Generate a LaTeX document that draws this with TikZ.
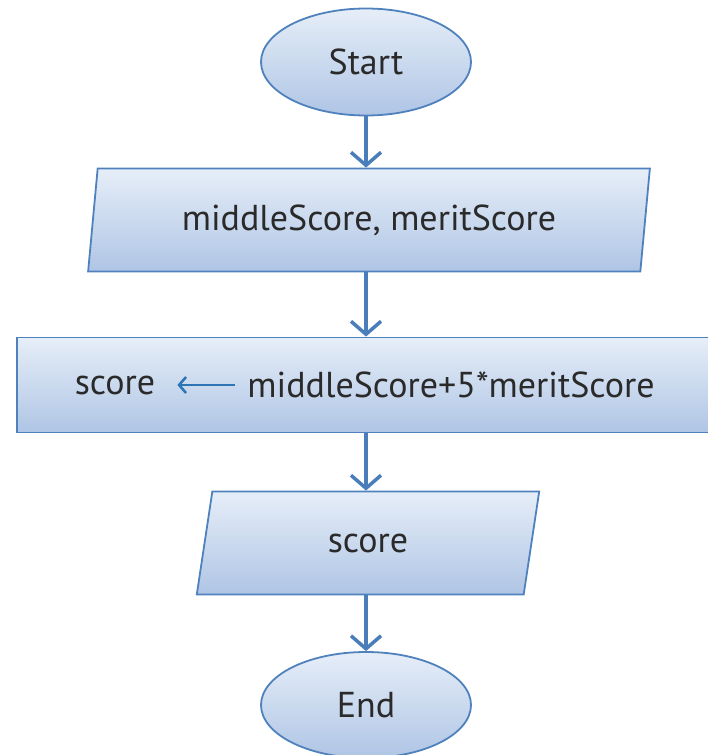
\documentclass[tikz,border=0pt]{standalone}
\usepackage{fontspec}
\setmainfont{PT Sans}
\usetikzlibrary{shapes.geometric,arrows.meta}

\definecolor{edgeblue}{HTML}{4F81BD}
\definecolor{flowblue}{HTML}{4A7EBB}
\definecolor{assignblue}{HTML}{2E75B6}
\definecolor{filltop}{HTML}{E6EEF8}
\definecolor{fillbot}{HTML}{AFC5E5}
\definecolor{ink}{HTML}{2A2A2A}

\tikzset{
  box/.style={draw=edgeblue, line width=1.8pt, top color=filltop, bottom color=fillbot,
              text=ink, font=\fontsize{36}{42}\selectfont, inner sep=0pt},
  terminal/.style={box, ellipse, minimum width=210pt, minimum height=107pt},
  io/.style={box, trapezium, trapezium left angle=78, trapezium right angle=102,
             trapezium stretches=true, minimum height=103pt},
  process/.style={box, rectangle, minimum height=95pt},
  label/.style={text=ink, font=\fontsize{36}{42}\selectfont, inner sep=0pt},
  flow/.style={draw=flowblue, line width=3.5pt,
               -{Straight Barb[length=13pt,width=30pt,line width=3.5pt]}},
  assign/.style={draw=assignblue, line width=2.5pt,
               -{Straight Barb[length=7pt,width=16pt,line width=2.5pt]}}
}

\begin{document}
\begin{tikzpicture}[x=1pt,y=-1pt]
  \useasboundingbox (0,0) rectangle (708,755);

  % flowchart shapes
  \node[terminal] (start) at (366,62) {Start};
  \node[io, minimum width=562pt] (in) at (369,220) {middleScore, meritScore};
  \node[process, minimum width=692pt] (proc) at (363,385) {};
  \node[io, minimum width=343pt] (out) at (368,543) {score};
  \node[terminal, minimum height=106pt] (end) at (366,705) {End};

  % assignment inside the process box
  \node[label] (lhs) at (115,385) {score};
  \node[label] (rhs) at (451,385) {middleScore+5*meritScore};
  \draw[assign] ([xshift=-12pt]rhs.west) -- ([xshift=22pt]lhs.east);

  % flow arrows
  \draw[flow] (start.south) -- (start.south |- in.north);
  \draw[flow] (in.south -| start.south) -- (start.south |- proc.north);
  \draw[flow] (proc.south -| start.south) -- (start.south |- out.north);
  \draw[flow] (out.south -| start.south) -- (end.north);
\end{tikzpicture}
\end{document}
